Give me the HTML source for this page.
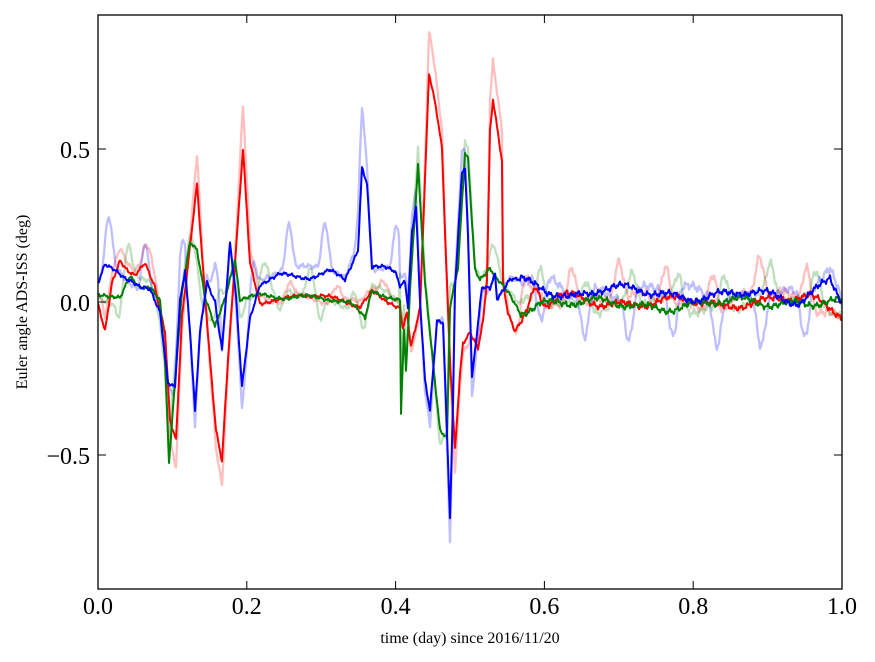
<!DOCTYPE html>
<html><head><meta charset="utf-8"><style>
html,body{margin:0;padding:0;background:#fff;width:875px;height:662px;overflow:hidden}
text{font-family:"Liberation Serif",serif;fill:#000}
</style></head><body>
<svg id="s" width="875" height="662" xmlns="http://www.w3.org/2000/svg">
<defs><clipPath id="c"><rect x="98" y="15" width="744" height="574"/></clipPath></defs>
<rect x="0" y="0" width="875" height="662" fill="#fff"/>
<g id="g" clip-path="url(#c)" fill="none" stroke-width="2" stroke-linejoin="round"></g>
<rect x="98" y="15" width="744" height="574" fill="none" stroke="#000" stroke-width="1.3"/>
<g stroke="#000" stroke-width="1">
<line x1="98" y1="589" x2="98" y2="581"/><line x1="246.8" y1="589" x2="246.8" y2="581"/><line x1="395.6" y1="589" x2="395.6" y2="581"/><line x1="544.4" y1="589" x2="544.4" y2="581"/><line x1="693.2" y1="589" x2="693.2" y2="581"/><line x1="842" y1="589" x2="842" y2="581"/>
<line x1="98" y1="15" x2="98" y2="23"/><line x1="246.8" y1="15" x2="246.8" y2="23"/><line x1="395.6" y1="15" x2="395.6" y2="23"/><line x1="544.4" y1="15" x2="544.4" y2="23"/><line x1="693.2" y1="15" x2="693.2" y2="23"/><line x1="842" y1="15" x2="842" y2="23"/>
<line x1="98" y1="149" x2="106" y2="149"/><line x1="98" y1="302" x2="106" y2="302"/><line x1="98" y1="455" x2="106" y2="455"/>
<line x1="842" y1="149" x2="834" y2="149"/><line x1="842" y1="302" x2="834" y2="302"/><line x1="842" y1="455" x2="834" y2="455"/>
</g>
<g font-size="24" text-anchor="middle">
<text x="98" y="614">0.0</text><text x="246.8" y="614">0.2</text><text x="395.6" y="614">0.4</text><text x="544.4" y="614">0.6</text><text x="693.2" y="614">0.8</text><text x="842" y="614">1.0</text>
</g>
<g font-size="24" text-anchor="end">
<text x="90" y="158">0.5</text><text x="90" y="311">0.0</text><text x="90" y="464">−0.5</text>
</g>
<text x="470" y="643" font-size="16" text-anchor="middle">time (day) since 2016/11/20</text>
<text transform="translate(27,302) rotate(-90)" font-size="16" text-anchor="middle">Euler angle ADS-ISS (deg)</text>
</svg>
<script>
var R=[98,305,105,330,112,280,120,258,128,270,135,275,145,262,155,285,165,330,170,420,176,442,182,320,190,250,197,186,203,270,210,360,216,430,222,462,228,360,236,250,243,148,250,260,260,300,280,300,300,295,330,300,360,305,372,290,385,300,400,305,403,325,407,310,411,345,420,310,427,130,429,76,436,110,442,150,446,260,450,360,455,450,460,375,463,345,470,335,478,350,483,322,487,280,490,130,493,97,498,130,502,158,503,280,508,310,515,330,525,315,535,285,545,305,560,298,600,305,640,300,680,300,720,310,750,300,780,295,810,300,842,318];
var G=[98,296,110,300,120,300,130,275,140,285,150,285,160,300,165,360,169,462,175,380,182,290,190,240,197,250,205,300,215,330,225,300,235,260,240,300,260,295,300,295,330,300,350,305,365,320,372,290,385,295,400,300,401,412,404,330,406,370,410,290,418,163,425,280,435,380,440,430,447,440,450,310,458,270,465,155,468,160,475,270,480,280,490,270,496,280,510,295,520,310,540,300,600,305,700,305,800,300,842,305];
var B=[98,285,105,265,115,270,125,280,140,290,150,290,160,310,168,380,175,385,180,300,185,270,190,330,195,410,200,330,207,280,215,300,222,350,230,245,236,300,242,390,250,320,260,285,280,275,310,275,330,270,345,280,358,250,362,168,367,185,372,270,385,270,395,272,400,285,405,280,408,305,412,230,416,205,420,300,425,380,430,410,437,320,443,320,447,430,450,515,453,400,455,285,462,170,465,168,468,235,472,380,477,335,482,290,490,290,495,275,497,300,510,280,540,285,570,295,600,290,650,293,700,295,750,295,800,300,830,275,842,300];
function f(a,x){for(var i=0;i<a.length-2;i+=2){if(x<=a[i+2]){var t=(x-a[i])/(a[i+2]-a[i]||1);return a[i+1]+t*(a[i+3]-a[i+1]);}}return a[a.length-1];}
function n(x,s){var k=x>520?1.8:1;return k*(Math.sin(x*0.9+s)*1.5+Math.sin(x*2.3+s*2)*1.2+Math.sin(x*0.13+s*3)*2.5+Math.sin(x*0.05+s*5)*3);}
function path(fn){var d="";for(var x=98;x<=842;x+=1){d+=(x==98?"M":"L")+x+","+fn(x).toFixed(1);}return d;}
function pk(x,p,o){var v=Math.sin((x-o)/p*2*Math.PI);return v>0?Math.pow(v,3):0;}
var g=document.getElementById("g");
function add(d,c,op){var p=document.createElementNS("http://www.w3.org/2000/svg","path");p.setAttribute("d",d);p.setAttribute("stroke",c);if(op){p.setAttribute("stroke-opacity",op);p.setAttribute("stroke-width","2.3");}g.appendChild(p);}
add(path(function(x){var v=302+1.15*(f(R,x)-302)+n(x,1);return v-40*pk(x,47,560)*(x>520?1:0.4);}),"#ff0000",0.25);
add(path(function(x){var v=302+1.1*(f(G,x)-302)+n(x,2);return v-30*pk(x,46,575)+ (x<400?20*pk(x,40,110):0);}),"#008000",0.25);
add(path(function(x){var v=302+1.15*(f(B,x)-302)+n(x,3);return v+(x>520?45*pk(x,44,530):0)-(x<400?45*pk(x,36,100):0);}),"#0000ff",0.25);
add(path(function(x){return f(R,x)+n(x,4)*0.7;}),"#ff0000");
add(path(function(x){return f(G,x)+n(x,5)*0.7;}),"#008000");
add(path(function(x){return f(B,x)+n(x,6)*0.7;}),"#0000ff");
</script>
</body></html>
